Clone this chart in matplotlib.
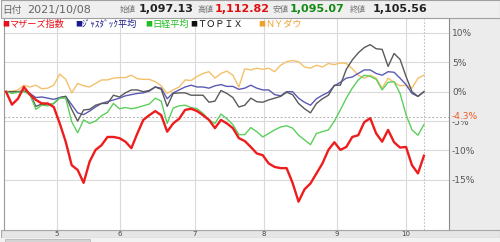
import matplotlib
matplotlib.use("Agg")
import matplotlib.pyplot as plt
from matplotlib.patches import Rectangle
import numpy as np

plt.rcParams['font.family'] = ['Noto Sans CJK JP', 'DejaVu Sans']

# ---------------- data ----------------
series_names = ['NYダウ', 'ｼﾞｬｽﾀﾞｯｸ平均', 'ＴＯＰＩＸ', '日経平均', 'マザーズ指数']

mothers = [0.0, -2.2, -1.2, 0.8, -0.5, -1.4, -2.0, -2.0, -2.6, -5.4,
           -8.5, -12.5, -13.3, -15.5, -11.9, -9.9, -9.1, -7.7, -7.7, -7.9,
           -8.5, -9.6, -7.1, -4.8, -4.0, -3.3, -4.0, -6.8, -5.4, -4.6,
           -3.1, -2.9, -3.3, -4.0, -4.8, -6.2, -4.8, -5.4, -6.2, -7.9,
           -8.4, -9.4, -10.5, -10.8, -12.2, -12.8, -13.0, -13.0, -15.5, -18.7,
           -16.6, -15.6, -13.9, -12.2, -9.9, -8.6, -9.9, -9.4, -7.7, -7.4,
           -5.2, -4.5, -7.1, -8.5, -6.5, -8.6, -9.5, -9.4, -12.5, -13.9, -10.9]

jasdaq = [0.0, 0.0, 0.0, 0.1, -0.3, -1.0, -0.9, -1.1, -1.3, -1.0,
          -0.8, -2.2, -3.6, -3.9, -3.3, -2.6, -2.0, -1.7, -1.4, -1.1,
          -0.7, -0.5, -0.3, -0.2, 0.1, 0.8, 0.6, -1.2, -0.2, 0.3,
          0.8, 1.1, 0.8, 0.8, 0.6, 1.0, 1.2, 0.9, 0.9, 0.4,
          0.6, 1.1, 0.6, 0.3, 0.3, -0.5, -0.7, 0.0, 0.0, -1.1,
          -1.8, -2.3, -1.2, -0.6, -0.1, 1.0, 1.6, 2.3, 2.5, 3.1,
          3.7, 3.7, 3.1, 2.8, 3.4, 3.3, 2.3, 1.2, -0.3, -0.8, 0.0]

nikkei = [0.0, -0.3, -0.1, 0.0, -0.5, -3.0, -2.3, -2.4, -2.0, -1.1,
          -1.1, -5.1, -7.0, -4.8, -5.4, -5.0, -4.1, -3.5, -2.0, -2.9,
          -2.7, -2.9, -2.7, -2.4, -2.1, -1.1, -1.6, -5.4, -2.8, -2.4,
          -2.3, -2.7, -2.9, -3.7, -4.8, -5.4, -3.8, -4.6, -5.6, -7.3,
          -7.3, -6.1, -6.8, -7.7, -7.1, -6.5, -6.0, -5.8, -6.2, -7.4,
          -8.2, -9.0, -7.1, -6.8, -6.5, -5.0, -3.1, -1.1, 0.6, 2.0,
          2.8, 2.6, 2.1, 0.3, 1.6, 1.7, -0.3, -3.9, -6.5, -7.4, -5.6]

topix = [0.0, 0.0, 0.0, 0.1, -0.3, -2.5, -2.1, -2.3, -2.0, -1.0,
         -0.8, -3.0, -5.0, -3.1, -3.0, -2.3, -2.0, -2.0, -0.6, -0.9,
         -0.2, 0.3, 0.3, 0.0, 0.2, 0.8, 0.4, -2.5, -0.3, -0.2,
         -0.2, -0.6, -0.6, -0.6, -1.8, -1.6, 0.2, -0.3, -1.0, -2.6,
         -2.3, -1.1, -1.7, -1.8, -1.4, -1.1, -0.8, -0.1, -0.5, -2.0,
         -2.9, -3.6, -2.0, -1.2, -0.6, 1.1, 1.1, 3.8, 5.4, 6.6,
         7.5, 8.0, 7.3, 7.2, 4.3, 6.5, 5.5, 2.6, 0.0, -0.8, 0.0]

nydow = [0.0, 0.1, 0.3, 1.1, 0.8, 1.1, 0.5, 0.6, 1.1, 3.0,
         2.1, -0.2, 1.4, 1.0, 0.8, 1.4, 2.0, 2.0, 2.3, 2.4,
         2.4, 2.8, 2.2, 2.1, 2.1, 1.7, 1.0, -0.3, 0.3, 0.8,
         2.0, 1.9, 2.6, 3.1, 3.4, 2.3, 3.1, 3.5, 2.8, 0.8,
         3.9, 3.7, 4.0, 3.8, 4.0, 3.4, 4.5, 5.1, 5.3, 5.1,
         4.2, 4.0, 4.5, 4.2, 4.8, 4.6, 4.9, 4.8, 3.9, 2.8,
         2.3, 2.8, 2.3, 0.6, 2.3, 1.6, 1.0, 1.1, 0.6, 2.3, 2.8]

month_labels = ['5', '6', '7', '8', '9', '10']
month_pos = [8.54, 19.1, 31.66, 43.2, 55.4, 67.0]   # trading-day index of month start

y_ticks = [10, 5, 0, -5, -10, -15]
y_tick_labels = ['10%', '5%', '0%', '-5%', '-10%', '-15%']
ref_value = -4.3
ref_label = '-4.3%'

date_label = '日付'
date_value = '2021/10/08'
price_labels = ['始値', '高値', '安値', '終値']
price_values = ['1,097.13', '1,112.82', '1,095.07', '1,105.56']

# ---------------- style ----------------
W, H = 500, 242
fig = plt.figure(figsize=(W / 100, H / 100), dpi=100)
fig.patch.set_facecolor('white')

def fx(px):
    return px / W

def fy(py):
    return 1 - py / H

# right panel
fig.add_artist(Rectangle((fx(449), fy(230)), fx(51), (230 - 18) / H,
                         transform=fig.transFigure, fc='#ececec', ec='none', zorder=0))
# bottom band
fig.add_artist(Rectangle((fx(0.5), fy(238)), fx(499), 8 / H,
                         transform=fig.transFigure, fc='#e6e6e6', ec='#a8a8a8', lw=0.8, zorder=0))
fig.add_artist(Rectangle((fx(0), fy(242)), fx(500), 4 / H,
                         transform=fig.transFigure, fc='#f2f2f2', ec='none', zorder=0))
fig.add_artist(Rectangle((fx(5), fy(242)), fx(85), 3.5 / H,
                         transform=fig.transFigure, fc='#d4d4d4', ec='#b0b0b0', lw=0.5, zorder=0))

ax = fig.add_axes([fx(4), (H - 230) / H, fx(445), (230 - 19) / H])
ax.set_facecolor('white')

x = np.arange(len(mothers))
ax.set_xlim(-0.335, 74.2)
ax.set_ylim(-23.52, 12.36)

for v in y_ticks:
    ax.axhline(v, color='#dadada', lw=0.8, zorder=1)
for p in month_pos:
    ax.axvline(p, color='#dadada', lw=0.8, zorder=1)

ax.axhline(ref_value, color='#b0b0b0', lw=0.7, ls=(0, (2, 2)), zorder=1)
ax.axvline(x[-1], color='#c0c0c0', lw=0.8, ls=(0, (1.5, 1.5)), zorder=1)

ax.plot(x, nydow, color='#f5c06a', lw=1.0, zorder=3)
ax.plot(x, jasdaq, color='#5a5ab4', lw=1.0, zorder=4)
ax.plot(x, topix, color='#5a5a5a', lw=1.0, zorder=5)
ax.plot(x, nikkei, color='#5ccf5c', lw=1.0, zorder=6)
ax.plot(x, mothers, color='#ee1c1c', lw=1.7, zorder=7)

ax.yaxis.tick_right()
ax.set_yticks(y_ticks)
ax.set_yticklabels(y_tick_labels, family='DejaVu Sans')
ax.tick_params(axis='y', length=0, pad=2.2, labelsize=6.5, labelcolor='#555555')
ax.set_xticks(month_pos)
ax.set_xticklabels(month_labels, family='DejaVu Sans')
ax.tick_params(axis='x', length=0, pad=0.8, labelsize=5, labelcolor='#444444')

for s in ['top']:
    ax.spines[s].set_visible(False)
ax.spines['left'].set_color('#9a9a9a')
ax.spines['right'].set_color('#8a8a8a')
ax.spines['bottom'].set_color('#a8a8a8')
for s in ax.spines.values():
    s.set_linewidth(0.8)

ax.annotate(ref_label, xy=(1, ref_value), xycoords=('axes fraction', 'data'),
            xytext=(2.2, 0.5), textcoords='offset points', va='center', ha='left',
            fontsize=6.5, color='#f05a28', family='DejaVu Sans',
            bbox=dict(fc='#ececec', ec='none', pad=0.3), annotation_clip=False, zorder=10)

# header
fig.add_artist(Rectangle((fx(0.5), fy(18)), fx(499), 17.5 / H,
                         transform=fig.transFigure, fc='#efefef', ec='#a0a0a0', lw=0.8, zorder=5))
hy = fy(9.5)
fig.text(fx(2), hy, date_label, fontsize=7, color='#666666', va='center', zorder=6)
fig.text(fx(27), hy, date_value, fontsize=8, color='#666666', va='center',
         family='DejaVu Sans', zorder=6)
lab_x = [120, 197, 273, 350]
val_x = [139, 215, 290, 373]
val_colors = ['#222222', '#e01010', '#138a13', '#222222']
for lx, vx, lab, val, c in zip(lab_x, val_x, price_labels, price_values, val_colors):
    fig.text(fx(lx), hy, lab, fontsize=5.8, color='#777777', va='center', zorder=6)
    fig.text(fx(vx), hy, val, fontsize=8, color=c, va='center', weight='bold',
             family='DejaVu Sans', zorder=6)

# legend row
leg_x = [2, 75, 145, 190, 258]
leg_names = ['マザーズ指数', 'ｼﾞｬｽﾀﾞｯｸ平均', '日経平均', 'ＴＯＰＩＸ', 'ＮＹダウ']
leg_colors = ['#e8101a', '#1a1a8c', '#22bb22', '#111111', '#f0a030']
ly = fy(24.5)
for lx, nm, c in zip(leg_x, leg_names, leg_colors):
    fig.text(fx(lx), ly, '■', fontsize=5, color=c, va='center', zorder=6)
    fig.text(fx(lx + 7), ly, nm, fontsize=6.6, color=c, va='center', zorder=6)

fig.savefig('out.png', dpi=100)
